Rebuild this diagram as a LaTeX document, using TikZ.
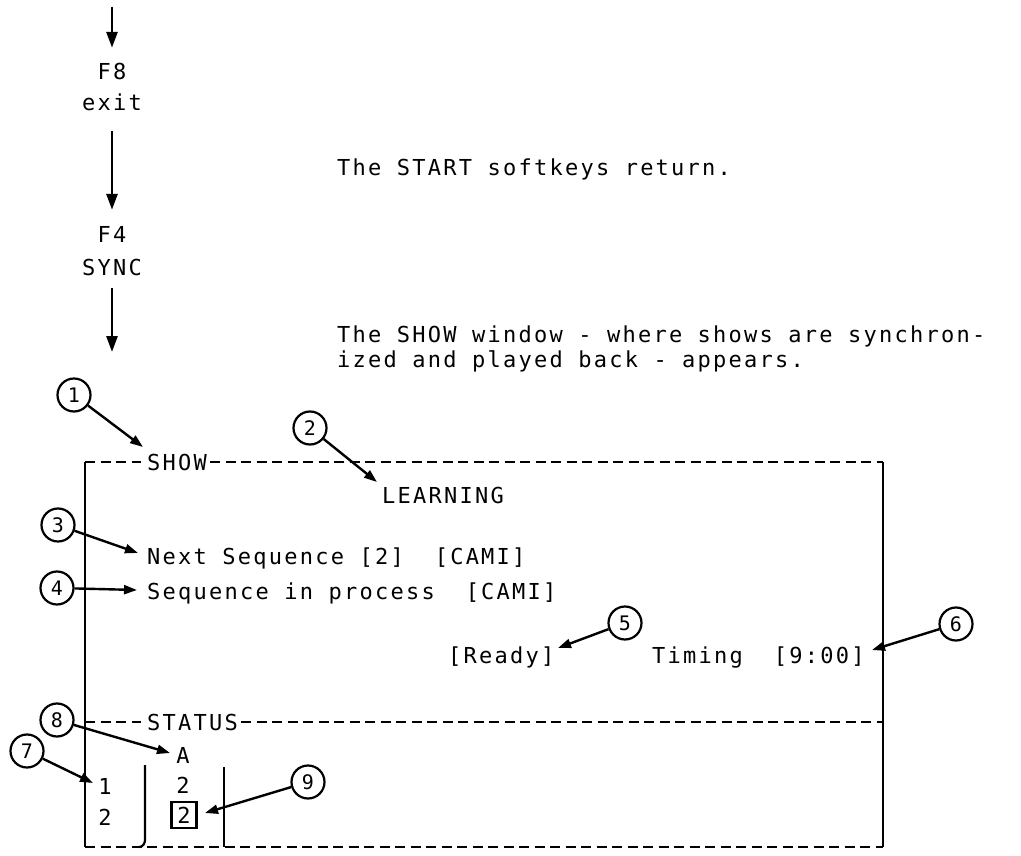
\documentclass[tikz,border=0pt]{standalone}
\usepackage{fontspec}
\usetikzlibrary{arrows.meta}
% terminal-style lettering: monospaced, widely tracked
\newfontfamily\termfont[LetterSpace=10.2]{DejaVu Sans Mono}
\newcommand\termtype{\termfont\fontsize{22}{31}\selectfont\spaceskip 15.5pt\relax}

\tikzset{
  termtext/.style={font=\termtype, inner sep=0pt, text height=16pt, text depth=0pt},
  txt/.style={termtext, anchor=west},
  keylbl/.style={termtext, anchor=center},
  callout/.style={circle, draw, line width=2.2pt, minimum size=33pt, inner sep=0pt,
    font=\termfont\fontsize{20}{24}\selectfont},
  flow/.style={line width=2.8pt, -{Triangle[length=16pt,width=11pt]}},
  pointer/.style={line width=2.4pt, -{Triangle[length=13pt,width=9pt]}},
  frame/.style={line width=2.2pt},
  dashline/.style={line width=2.2pt, dash pattern=on 10pt off 5.5pt},
}

\begin{document}
\begin{tikzpicture}[x=1pt, y=-1pt]
\useasboundingbox (0,0) rectangle (1021,856);

% ---- softkey sequence on the left ----
\coordinate (flowin) at (112,7);
\coordinate (flowout) at (112,352);
\node[keylbl] (f8) at (112,72) {F8};
\node[keylbl] (exitk) at (112,103) {exit};
\node[keylbl] (f4) at (112,235) {F4};
\node[keylbl] (sync) at (112,267) {SYNC};
\draw[flow, shorten >=16pt] (flowin) -- (f8);
\draw[flow, shorten <=20pt, shorten >=17pt] (exitk) -- (f4);
\draw[flow, shorten <=13pt] (sync) -- (flowout);

% ---- explanations ----
\node[txt] (startmsg) at (337,168) {The START softkeys return.};
\node[txt] (showmsg1) at (337,334) {The SHOW window - where shows are synchron-};
\node[txt] (showmsg2) at (337,359) {ized and played back - appears.};

% ---- SHOW window frame ----
\coordinate (tl) at (85,462);
\coordinate (tr) at (883,462);
\coordinate (br) at (883,847);
\coordinate (bl) at (85,847);
\coordinate (sl) at (85,722);
\coordinate (sr) at (883,722);
\node[txt] (showtitle) at (147,462) {SHOW};
\node[txt] (status) at (147,722) {STATUS};
\draw[frame] (tl) -- (bl);
\draw[frame] (tr) -- (br);
\draw[dashline, shorten >=6pt] (tl) -- (showtitle.west);
\draw[dashline, shorten <=3pt] (showtitle.east) -- (tr);
\draw[dashline, shorten >=6pt] (sl) -- (status.west);
\draw[dashline, shorten <=3pt] (status.east) -- (sr);
\draw[dashline] (bl) -- (br);

% ---- window contents ----
\node[txt] (learning) at (382,495) {LEARNING};
\node[txt] (nextseq) at (147,556) {Next Sequence [2]\ \ [CAMI]};
\node[txt] (inproc) at (147,591) {Sequence in process\ \ [CAMI]};
\node[txt] (ready) at (448,655) {[Ready]};
\node[txt] (timing) at (652,655) {Timing\ \ [9:00]};

% ---- status area ----
\node[keylbl] (chanA) at (183,755) {A};
\node[keylbl] (row1) at (105,786) {1};
\node[keylbl] (row2) at (105,817) {2};
\node[keylbl] (chan2) at (183,785) {2};
\node[keylbl, draw, line width=2.4pt, minimum width=25pt, minimum height=26pt] (cursor) at (184,815) {2};
\coordinate (sepatop) at (145,765);
\coordinate (sepabot) at (139,847);
\coordinate (sepbtop) at (224,767);
\coordinate (sepbbot) at (224,847);
\draw[frame] (sepatop) -- ++(0,75) to[out=270,in=0] (sepabot);
\draw[frame] (sepbtop) -- (sepbbot);

% ---- numbered callouts ----
\node[callout] (c1) at (74,395) {1};
\node[callout] (c2) at (310,428) {2};
\node[callout] (c3) at (58,525) {3};
\node[callout] (c4) at (57,588) {4};
\node[callout] (c5) at (625,623) {5};
\node[callout] (c6) at (956,624) {6};
\node[callout] (c7) at (27,751) {7};
\node[callout] (c8) at (57,720) {8};
\node[callout] (c9) at (308,782) {9};

\coordinate (p1) at (143,447);
\coordinate (p2) at (377,482);
\coordinate (p3) at (138,553);
\coordinate (p4) at (137,590);
\coordinate (p5) at (558,648);
\coordinate (p6) at (872,650);
\coordinate (p7) at (93,783);
\coordinate (p8) at (170,753);
\coordinate (p9) at (205,813);

\draw[pointer] (c1) -- (p1);
\draw[pointer] (c2) -- (p2);
\draw[pointer] (c3) -- (p3);
\draw[pointer] (c4) -- (p4);
\draw[pointer] (c5) -- (p5);
\draw[pointer] (c6) -- (p6);
\draw[pointer] (c7) -- (p7);
\draw[pointer] (c8) -- (p8);
\draw[pointer] (c9) -- (p9);
\end{tikzpicture}
\end{document}
